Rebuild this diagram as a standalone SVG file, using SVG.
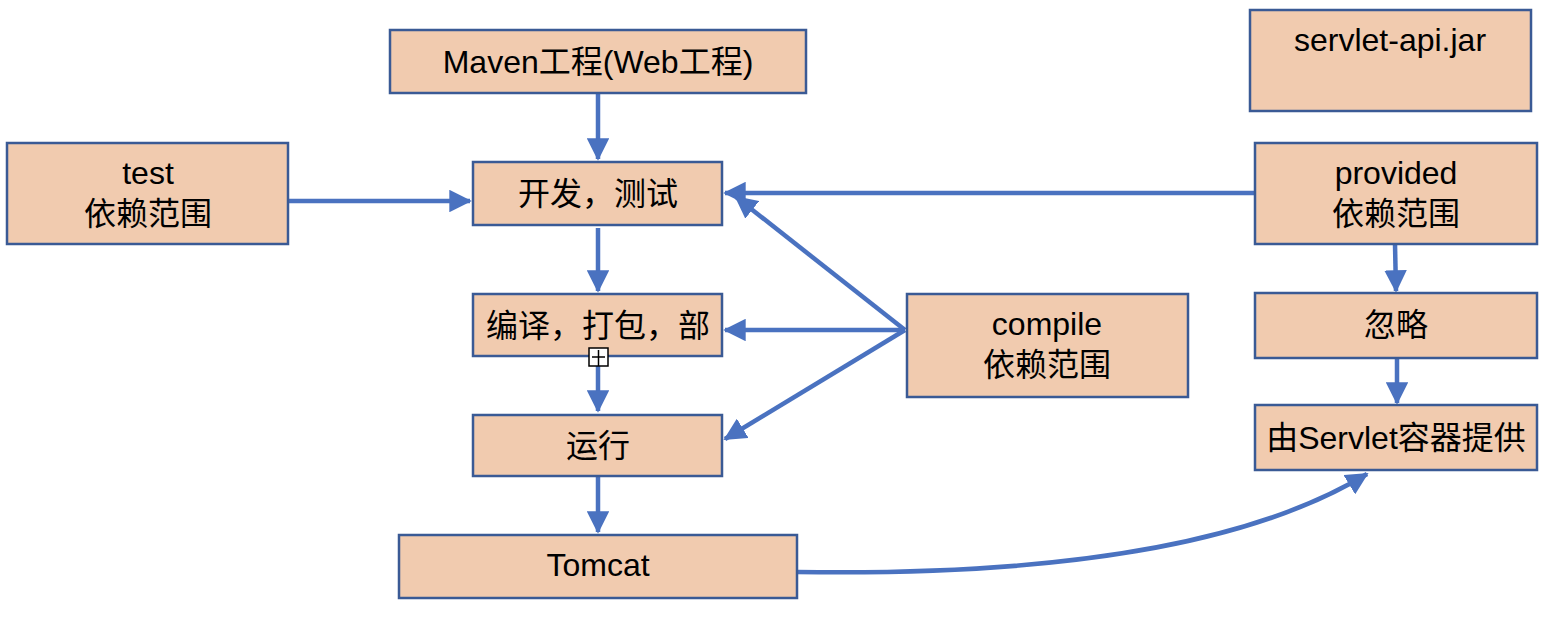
<svg xmlns="http://www.w3.org/2000/svg" width="1554" height="624" viewBox="0 0 1554 624">
<style>
.box{fill:#F1CBAF;stroke:#3A5A95;stroke-width:2.5}
.t{font-family:"Liberation Sans","Noto Sans CJK SC",sans-serif;font-size:32px;fill:#000;text-anchor:middle}
.c{fill:none;stroke:#4A72C0;stroke-width:4.5}
</style>
<defs>
<marker id="ah" markerWidth="5" markerHeight="5" refX="4.6" refY="2.5" orient="auto" markerUnits="strokeWidth">
<path d="M0,0 L5,2.5 L0,5 Z" fill="#4A72C0"/>
</marker>
</defs>
<rect width="1554" height="624" fill="#fff"/>
<g id="connectors">
<path class="c" d="M598,93 V159" marker-end="url(#ah)"/>
<path class="c" d="M288,201 H470" marker-end="url(#ah)"/>
<path class="c" d="M1255,193 H725" marker-end="url(#ah)"/>
<path class="c" d="M905,330 L736,197" marker-end="url(#ah)"/>
<path class="c" d="M905,330 H725" marker-end="url(#ah)"/>
<path class="c" d="M905,330 L725,439" marker-end="url(#ah)"/>
<path class="c" d="M598,228 V291" marker-end="url(#ah)"/>
<path class="c" d="M598,356 V411" marker-end="url(#ah)"/>
<path class="c" d="M598,476 V532" marker-end="url(#ah)"/>
<path class="c" d="M1395,244 L1396,291" marker-end="url(#ah)"/>
<path class="c" d="M1397,358 V403" marker-end="url(#ah)"/>
<path class="c" d="M797,572 C1060,576 1250,545 1367,474" marker-end="url(#ah)"/>
</g>
<g id="n_maven"><rect class="box" x="390" y="30" width="416" height="63"/><text class="t" x="598" y="73">Maven工程(Web工程)</text></g>
<g id="n_servlet"><rect class="box" x="1250" y="10" width="281" height="101"/><text class="t" x="1390" y="51">servlet-api.jar</text></g>
<g id="n_test"><rect class="box" x="7" y="143" width="281" height="101"/><text class="t" x="148" y="184">test</text><text class="t" x="148" y="225">依赖范围</text></g>
<g id="n_dev"><rect class="box" x="473" y="162" width="249" height="63"/><text class="t" x="598" y="205">开发，测试</text></g>
<g id="n_provided"><rect class="box" x="1255" y="143" width="282" height="101"/><text class="t" x="1396" y="184">provided</text><text class="t" x="1396" y="225">依赖范围</text></g>
<g id="n_build"><rect class="box" x="473" y="294" width="249" height="62"/><text class="t" x="598" y="337">编译，打包，部</text></g>
<g id="n_compile"><rect class="box" x="907" y="294" width="281" height="103"/><text class="t" x="1047" y="335">compile</text><text class="t" x="1047" y="376">依赖范围</text></g>
<g id="n_ignore"><rect class="box" x="1255" y="293" width="282" height="65"/><text class="t" x="1396" y="336">忽略</text></g>
<g id="n_run"><rect class="box" x="473" y="415" width="249" height="61"/><text class="t" x="598" y="457">运行</text></g>
<g id="n_container"><rect class="box" x="1255" y="405" width="282" height="65"/><text class="t" x="1396" y="449">由Servlet容器提供</text></g>
<g id="n_tomcat"><rect class="box" x="399" y="535" width="398" height="63"/><text class="t" x="598" y="576">Tomcat</text></g>
<g id="handle"><rect x="589" y="348" width="19" height="18" fill="#fff" stroke="#000" stroke-width="1.5"/><path d="M592,357 H605 M598.5,350 V366" stroke="#000" stroke-width="1.5"/></g>
</svg>
